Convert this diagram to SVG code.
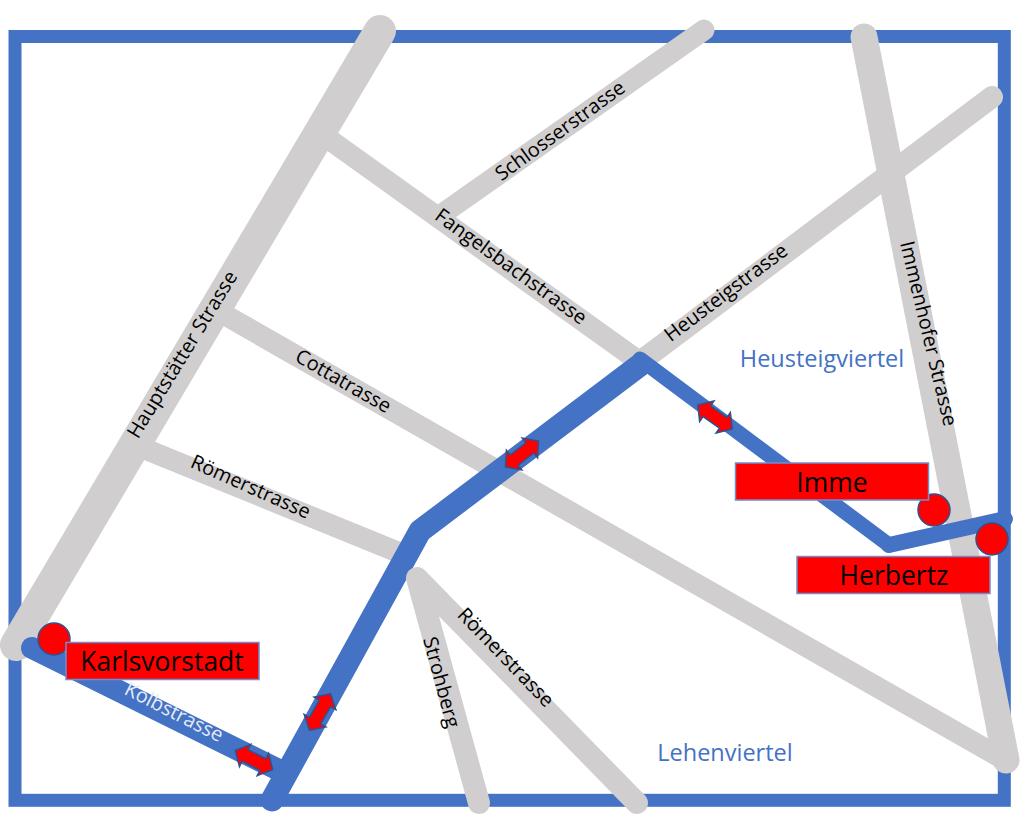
<svg xmlns="http://www.w3.org/2000/svg" width="1024" height="817" viewBox="0 0 1024 817">
<style>
.road{fill:none;stroke:#d0cece;stroke-linecap:round;stroke-linejoin:round}
.route{fill:none;stroke:#4472c4;stroke-linecap:round;stroke-linejoin:round}
.box{fill:#ff0000;stroke:#6d8fd0;stroke-width:1.5}
.dot{fill:#ff0000;stroke:#2f528f;stroke-width:1.5}
.arrow{fill:#ff0000;stroke:#2f528f;stroke-width:1.5;stroke-linejoin:miter}
text{font-family:"Open Sans","Noto Sans","Liberation Sans",sans-serif}
.st{font-size:20px;fill:#000;text-anchor:middle}
.lbl{font-size:26.500px;fill:#000;text-anchor:middle}
.area{font-size:23.500px;fill:#4472c4;text-anchor:middle}
</style>
<defs><path id="dbl" class="arrow" d="M-21 0L-10 -12.500V-6.500H10V-12.500L21 0L10 12.500V6.500H-10V12.500Z"/></defs>
<rect id="frame" x="15" y="36.500" width="989.300" height="763.800" fill="#fff" stroke="#4472c4" stroke-width="13"/>
<g id="connectors">
<path class="road" stroke-width="32" d="M380 31L16 645"/>
<path class="road" stroke-width="21" d="M704 30L445 212"/>
<path class="road" stroke-width="22" d="M992 97L640 362"/>
<path class="road" stroke-width="21" d="M330 140L640 362"/>
<path class="road" stroke-width="21" d="M225 315L1005 760"/>
<path class="road" stroke-width="21" d="M140 447L405 555"/>
<path class="road" stroke-width="27" d="M864 37L1006 760"/>
<path class="route" stroke-width="22" d="M32 648L285 773"/>
<path class="route" stroke-width="23" d="M272 800L420 531L640 365"/>
<path class="route" stroke-width="15" d="M640 359L889 545"/>
<path class="route" stroke-width="16" d="M889 545L1005 519"/>
<path class="road" stroke-width="22" d="M479 803L417 578L637 803"/>
</g>
<g id="arrow-1"><use href="#dbl" transform="translate(254 760) rotate(27)"/></g>
<g id="arrow-2"><use href="#dbl" transform="translate(320 712) rotate(-60)"/></g>
<g id="arrow-3"><use href="#dbl" transform="translate(522 454) rotate(-38)"/></g>
<g id="arrow-4"><use href="#dbl" transform="translate(715 417) rotate(35)"/></g>
<g id="karlsvorstadt"><circle class="dot" cx="54" cy="639" r="16"/><rect class="box" x="66" y="642.500" width="193" height="37"/><text class="lbl" x="162" y="671">Karlsvorstadt</text></g>
<g id="imme"><circle class="dot" cx="934" cy="510" r="16"/><rect class="box" x="735.500" y="463" width="193" height="37"/><text class="lbl" x="832" y="492">Imme</text></g>
<g id="herbertz"><circle class="dot" cx="992" cy="539" r="16"/><rect class="box" x="797" y="556.500" width="193" height="37"/><text class="lbl" x="894" y="585">Herbertz</text></g>
<g id="labels">
<text class="st" transform="translate(188 358) rotate(-58.500)">Hauptstätter Strasse</text>
<text class="st" transform="translate(564 136) rotate(-36)">Schlosserstrasse</text>
<text class="st" transform="translate(507 272) rotate(36)">Fangelsbachstrasse</text>
<text class="st" transform="translate(730 298) rotate(-37)">Heusteigstrasse</text>
<text class="st" transform="translate(340 387) rotate(30)">Cottatrasse</text>
<text class="st" transform="translate(248 493) rotate(24)">Römerstrasse</text>
<text class="st" transform="translate(501 662) rotate(46)">Römerstrasse</text>
<text class="st" transform="translate(435 684) rotate(75)">Strohberg</text>
<text class="st" transform="translate(922 335) rotate(76.500)">Immenhofer Strasse</text>
<text class="st" style="fill:#e4ebf7" transform="translate(171 718) rotate(27)">Kolbstrasse</text>
<text class="area" x="822" y="367">Heusteigviertel</text>
<text class="area" x="725" y="761">Lehenviertel</text>
</g>
</svg>
